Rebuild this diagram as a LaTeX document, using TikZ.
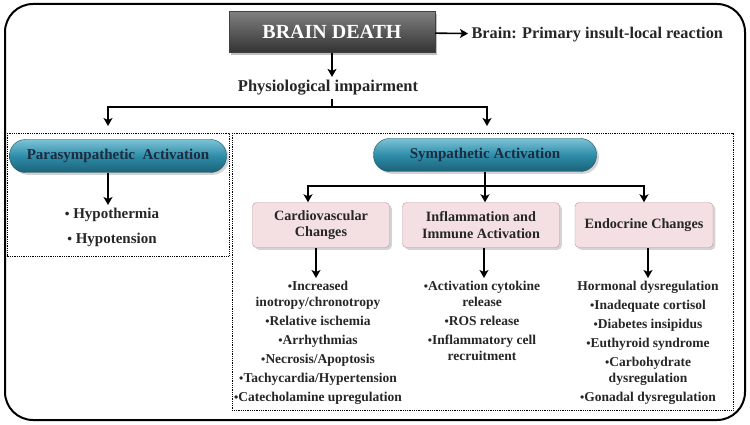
\documentclass[tikz,border=0pt]{standalone}
\usepackage{fontspec}
\setmainfont{Liberation Serif}
\usetikzlibrary{shadows,arrows.meta}
\definecolor{tealtop}{HTML}{7CC3D6}
\definecolor{tealmid}{HTML}{2E8DA9}
\definecolor{tealbot}{HTML}{1A6278}
\definecolor{tealline}{HTML}{1D5366}
\definecolor{pinkfill}{HTML}{F4E0E3}
\definecolor{pinkline}{HTML}{B8979D}
\definecolor{navytext}{HTML}{1C2B3F}
\newcommand{\bul}{\raisebox{0.1ex}{\scalebox{0.9}{•}}}
\tikzstyle{deathbox} = [rectangle, minimum width=206pt, minimum height=41pt, text centered, draw=black!75, top color=black!50, bottom color=black!80, text=white, font=\bfseries\fontsize{20}{24}\selectfont, drop shadow]
\tikzstyle{pill} = [rectangle, rounded corners=16pt, minimum height=33pt, text centered, draw=tealline, top color=tealtop, bottom color=tealbot, middle color=tealmid, text=navytext, font=\bfseries\fontsize{15}{18}\selectfont, drop shadow={opacity=0.35}]
\tikzstyle{change} = [rectangle, rounded corners=4pt, minimum height=45pt, align=center, draw=pinkline, fill=pinkfill, text=black!85, font=\bfseries\fontsize{14.2}{16.5}\selectfont, drop shadow={opacity=0.35}]
\tikzstyle{listtext} = [align=center, anchor=north, text=black!85, font=\bfseries\fontsize{13.5}{16}\selectfont]
\tikzstyle{dotframe} = [line width=0.9pt, dash pattern=on 0.9pt off 0.9pt]
\tikzstyle{arrow} = [line width=1.6pt,-{Stealth[length=8pt,width=9pt,inset=2pt]}]
\tikzstyle{link} = [line width=1.6pt]

\begin{document}
\begin{tikzpicture}[x=1pt,y=-1pt]
\useasboundingbox (0,0) rectangle (750,425);
\draw[line width=2pt, rounded corners=28pt] (5,4) rectangle (745,420);
\draw[dotframe] (7,133) rectangle (229,256);
\draw[dotframe] (232,133) rectangle (733,410);

\node (death) [deathbox] at (332,32) {BRAIN DEATH};
\node (insult) [anchor=west, text=black!85, font=\bfseries\fontsize{16.3}{18}\selectfont] at (468,35) {Brain: Primary insult-local reaction};
\node (phys) [text=black!85, font=\bfseries\fontsize{16.5}{18}\selectfont] at (328,88) {Physiological impairment};
\coordinate (split) at (332,107);
\coordinate (paraend) at (108,126);
\coordinate (sympend) at (487,126);

\node (para) [pill, minimum width=217pt] at (118,156) {Parasympathetic\ \ Activation};
\node (hypo) [listtext, font=\bfseries\fontsize{15}{25}\selectfont] at (112,205) {\bul\ Hypothermia\\\bul\ Hypotension};

\node (symp) [pill, minimum width=223pt] at (485,155) {Sympathetic Activation};
\coordinate (ssplit) at (485,186);
\node (cardio) [change, minimum width=137pt] at (321,225) {Cardiovascular\\Changes};
\node (inflam) [change, minimum width=157pt] at (481,225) {Inflammation and\\Immune Activation};
\node (endo) [change, minimum width=138pt] at (644,225) {Endocrine Changes};

\node (cardiolist) [listtext] at (318,278) {\bul Increased\\inotropy/chronotropy\\[3pt]\bul Relative ischemia\\[3pt]\bul Arrhythmias\\[3pt]\bul Necrosis/Apoptosis\\[3pt]\bul Tachycardia/Hypertension\\[3pt]\bul Catecholamine upregulation};
\node (inflamlist) [listtext] at (482,278) {\bul Activation cytokine\\release\\[3pt]\bul ROS release\\[3pt]\bul Inflammatory cell\\recruitment};
\node (endolist) [listtext] at (648,278) {Hormonal dysregulation\\[3pt]\bul Inadequate cortisol\\[3pt]\bul Diabetes insipidus\\[3pt]\bul Euthyroid syndrome\\[3pt]\bul Carbohydrate\\dysregulation\\[3pt]\bul Gonadal dysregulation};

\draw [arrow] (death) -- (insult);
\draw [arrow] (death.south -| split) -- (phys.north -| split);
\draw [link] (phys.south -| split) -- (split);
\draw [arrow] (split) -| (paraend);
\draw [arrow] (split) -| (sympend);
\draw [arrow] (para.south -| 108,0) -- (hypo.north -| 108,0);
\draw [link] (symp) -- (ssplit);
\draw [arrow] (ssplit) -| ([xshift=-13pt]cardio.north);
\draw [arrow] (ssplit) -| (inflam.north -| ssplit);
\draw [arrow] (ssplit) -| (endo.north);
\draw [arrow] (cardio.south -| 316,0) -- (cardiolist.north -| 316,0);
\draw [arrow] (inflam.south -| 484,0) -- (inflamlist.north -| 484,0);
\draw [arrow] (endo.south -| endolist.north) -- (endolist.north);

\end{tikzpicture}
\end{document}
